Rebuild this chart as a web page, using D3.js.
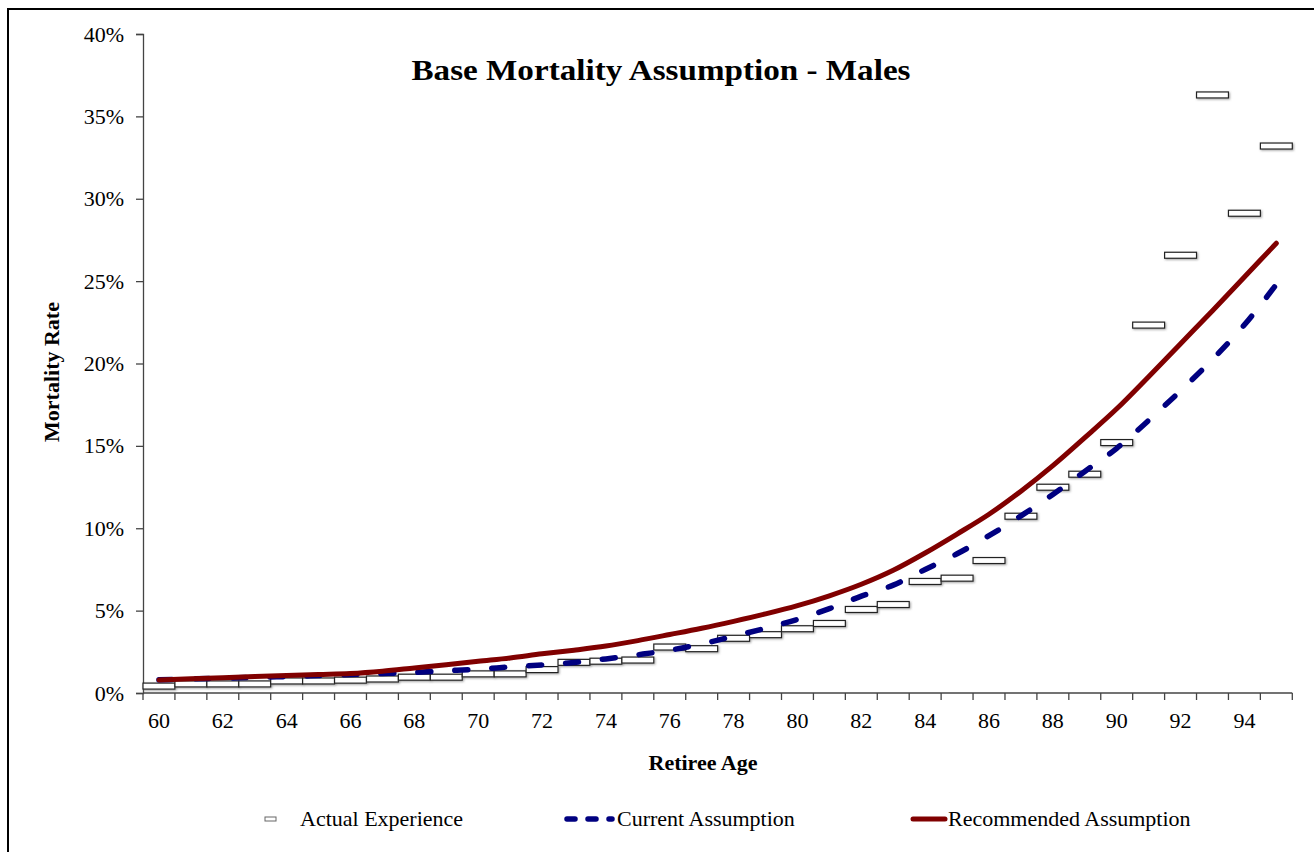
<!DOCTYPE html>
<html>
<head>
<meta charset="utf-8">
<script src="https://cdn.jsdelivr.net/npm/d3@7"></script>
<style>
  body { margin: 0; background: #fff; }
  text { font-family: 'Liberation Serif', 'Times New Roman', serif; fill: #000; }
</style>
</head>
<body>
<div id="vis"></div>
<script>
var width = 1314,
    height = 852;

// data
var ages = d3.range(60, 96);
var actual = [0.42, 0.55, 0.55, 0.55, 0.73, 0.73, 0.78, 0.85, 0.96, 0.96,
              1.16, 1.16, 1.42, 1.86, 1.93, 2.00, 2.79, 2.69, 3.32, 3.54,
              3.90, 4.22, 5.07, 5.37, 6.77, 6.97, 8.04, 10.73, 12.49, 13.28,
              15.20, 22.33, 26.57, 36.30, 29.12, 33.20];
var current = [0.80, 0.85, 0.90, 0.95, 1.00, 1.06, 1.12, 1.18, 1.25, 1.35,
               1.45, 1.58, 1.70, 1.85, 2.07, 2.32, 2.60, 2.97, 3.45, 3.93,
               4.47, 5.12, 5.88, 6.55, 7.50, 8.45, 9.55, 10.75, 12.05, 13.45,
               14.85, 16.55, 18.35, 20.25, 22.35, 24.80];
var recommended = [0.79, 0.86, 0.93, 1.00, 1.06, 1.12, 1.18, 1.32, 1.52, 1.72,
                   1.93, 2.13, 2.38, 2.60, 2.85, 3.18, 3.55, 3.93, 4.35, 4.80,
                   5.30, 5.90, 6.60, 7.45, 8.50, 9.65, 10.85, 12.25, 13.80, 15.50,
                   17.25, 19.20, 21.20, 23.20, 25.25, 27.30];
var yTicks = [0, 0.05, 0.10, 0.15, 0.20, 0.25, 0.30, 0.35, 0.40];
var xLabels = d3.range(60, 96, 2);

var svg = d3.select('#vis').append('svg')
    .attr("width", width)
    .attr("height", height);

var defs = svg.append("defs");
var shadow = defs.append("filter")
    .attr("id", "shadow")
    .attr("x", "-20%").attr("y", "-50%")
    .attr("width", "150%").attr("height", "250%");
shadow.append("feDropShadow")
    .attr("dx", 1).attr("dy", 1)
    .attr("stdDeviation", 1)
    .attr("flood-color", "#666")
    .attr("flood-opacity", 0.6);

// outer frame
svg.append("rect")
    .attr("x", 8)
    .attr("y", 9)
    .attr("width", width + 20)
    .attr("height", height + 20)
    .attr("fill", "none")
    .attr("stroke", "#000")
    .attr("stroke-width", 2);

var x = d3.scaleBand()
    .domain(ages)
    .range([143, 1292.3])
    .padding(0);

var y = d3.scaleLinear()
    .domain([0, 0.40])
    .range([693, 34]);

var cx = function(a) { return x(a) + x.bandwidth() / 2; };

// y axis
var yAxis = svg.append("g")
    .attr("transform", "translate(143,0)")
    .call(d3.axisLeft(y).tickValues(yTicks).tickFormat(d3.format(".0%")).tickSizeOuter(0).tickSize(7).tickPadding(12));
yAxis.select(".domain").attr("stroke", "#444").attr("stroke-width", 1.3);
yAxis.selectAll(".tick line").attr("stroke", "#444").attr("stroke-width", 1.3);
yAxis.selectAll("text")
    .style("font-family", "'Liberation Serif', serif")
    .style("font-size", "22px")
    .attr("fill", "#000");

// x axis: ticks on category boundaries, labels every other age
var xAxisG = svg.append("g").attr("class", "xaxis");
xAxisG.append("line")
    .attr("x1", x.range()[0]).attr("x2", x.range()[1])
    .attr("y1", y(0)).attr("y2", y(0))
    .attr("stroke", "#444")
    .attr("stroke-width", 1.3);
xAxisG.selectAll("line.tk")
    .data(ages.concat([96]))
    .enter()
    .append("line")
    .attr("class", "tk")
    .attr("x1", function(d) { return d == 96 ? x.range()[1] : x(d); })
    .attr("x2", function(d) { return d == 96 ? x.range()[1] : x(d); })
    .attr("y1", y(0))
    .attr("y2", y(0) + 7)
    .attr("stroke", "#444")
    .attr("stroke-width", 1.3);
xAxisG.selectAll("text")
    .data(xLabels)
    .enter()
    .append("text")
    .attr("x", function(d) { return cx(d); })
    .attr("y", 728)
    .attr("text-anchor", "middle")
    .style("font-size", "22px")
    .text(function(d) { return d; });

// axis titles
svg.append("text")
    .attr("x", 703)
    .attr("y", 770)
    .attr("text-anchor", "middle")
    .style("font-size", "22px")
    .style("font-weight", "bold")
    .text("Retiree Age");

svg.append("text")
    .attr("transform", "translate(59,372) rotate(-90)")
    .attr("text-anchor", "middle")
    .style("font-size", "22px")
    .style("font-weight", "bold")
    .text("Mortality Rate");

// title
svg.append("text")
    .attr("x", 661)
    .attr("y", 80)
    .attr("text-anchor", "middle")
    .style("font-size", "30px")
    .style("font-weight", "bold")
    .attr("textLength", 499)
    .attr("lengthAdjust", "spacingAndGlyphs")
    .text("Base Mortality Assumption - Males");

// actual experience markers
var rows = ages.map(function(a, i) {
    return { age: a, actual: actual[i] / 100, current: current[i] / 100, recommended: recommended[i] / 100 };
});

svg.selectAll("rect.actual")
    .data(rows)
    .enter()
    .append("rect")
    .attr("class", "actual")
    .attr("x", function(d) { return x(d.age); })
    .attr("y", function(d) { return y(d.actual) - 3; })
    .attr("width", x.bandwidth())
    .attr("height", 6)
    .attr("fill", "#fff")
    .attr("stroke", "#222")
    .attr("stroke-width", 1.2)
    .attr("filter", "url(#shadow)");

var lineCurrent = d3.line()
    .x(function(d) { return cx(d.age); })
    .y(function(d) { return y(d.current); })
    .curve(d3.curveMonotoneX);

var lineRec = d3.line()
    .x(function(d) { return cx(d.age); })
    .y(function(d) { return y(d.recommended); })
    .curve(d3.curveMonotoneX);

svg.append("path")
    .datum(rows)
    .attr("d", lineCurrent)
    .attr("fill", "none")
    .attr("stroke", "#000080")
    .attr("stroke-width", 5.5)
    .attr("stroke-linecap", "round")
    .attr("stroke-dasharray", "13,24");

svg.append("path")
    .datum(rows)
    .attr("d", lineRec)
    .attr("fill", "none")
    .attr("stroke", "#800000")
    .attr("stroke-width", 5)
    .attr("stroke-linecap", "round");

// legend
var legend = svg.append("g").attr("class", "legend");

legend.append("rect")
    .attr("x", 265)
    .attr("y", 817)
    .attr("width", 11)
    .attr("height", 4)
    .attr("fill", "#fff")
    .attr("stroke", "#666")
    .attr("stroke-width", 1);
legend.append("text")
    .attr("x", 300).attr("y", 826)
    .style("font-size", "22px")
    .text("Actual Experience");

legend.append("line")
    .attr("x1", 567).attr("x2", 612)
    .attr("y1", 819).attr("y2", 819)
    .attr("stroke", "#000080")
    .attr("stroke-width", 5.5)
    .attr("stroke-linecap", "round")
    .attr("stroke-dasharray", "8,13");
legend.append("text")
    .attr("x", 617).attr("y", 826)
    .style("font-size", "22px")
    .text("Current Assumption");

legend.append("line")
    .attr("x1", 913).attr("x2", 945)
    .attr("y1", 819).attr("y2", 819)
    .attr("stroke", "#800000")
    .attr("stroke-width", 5)
    .attr("stroke-linecap", "round");
legend.append("text")
    .attr("x", 948).attr("y", 826)
    .style("font-size", "22px")
    .text("Recommended Assumption");
</script>
</body>
</html>
